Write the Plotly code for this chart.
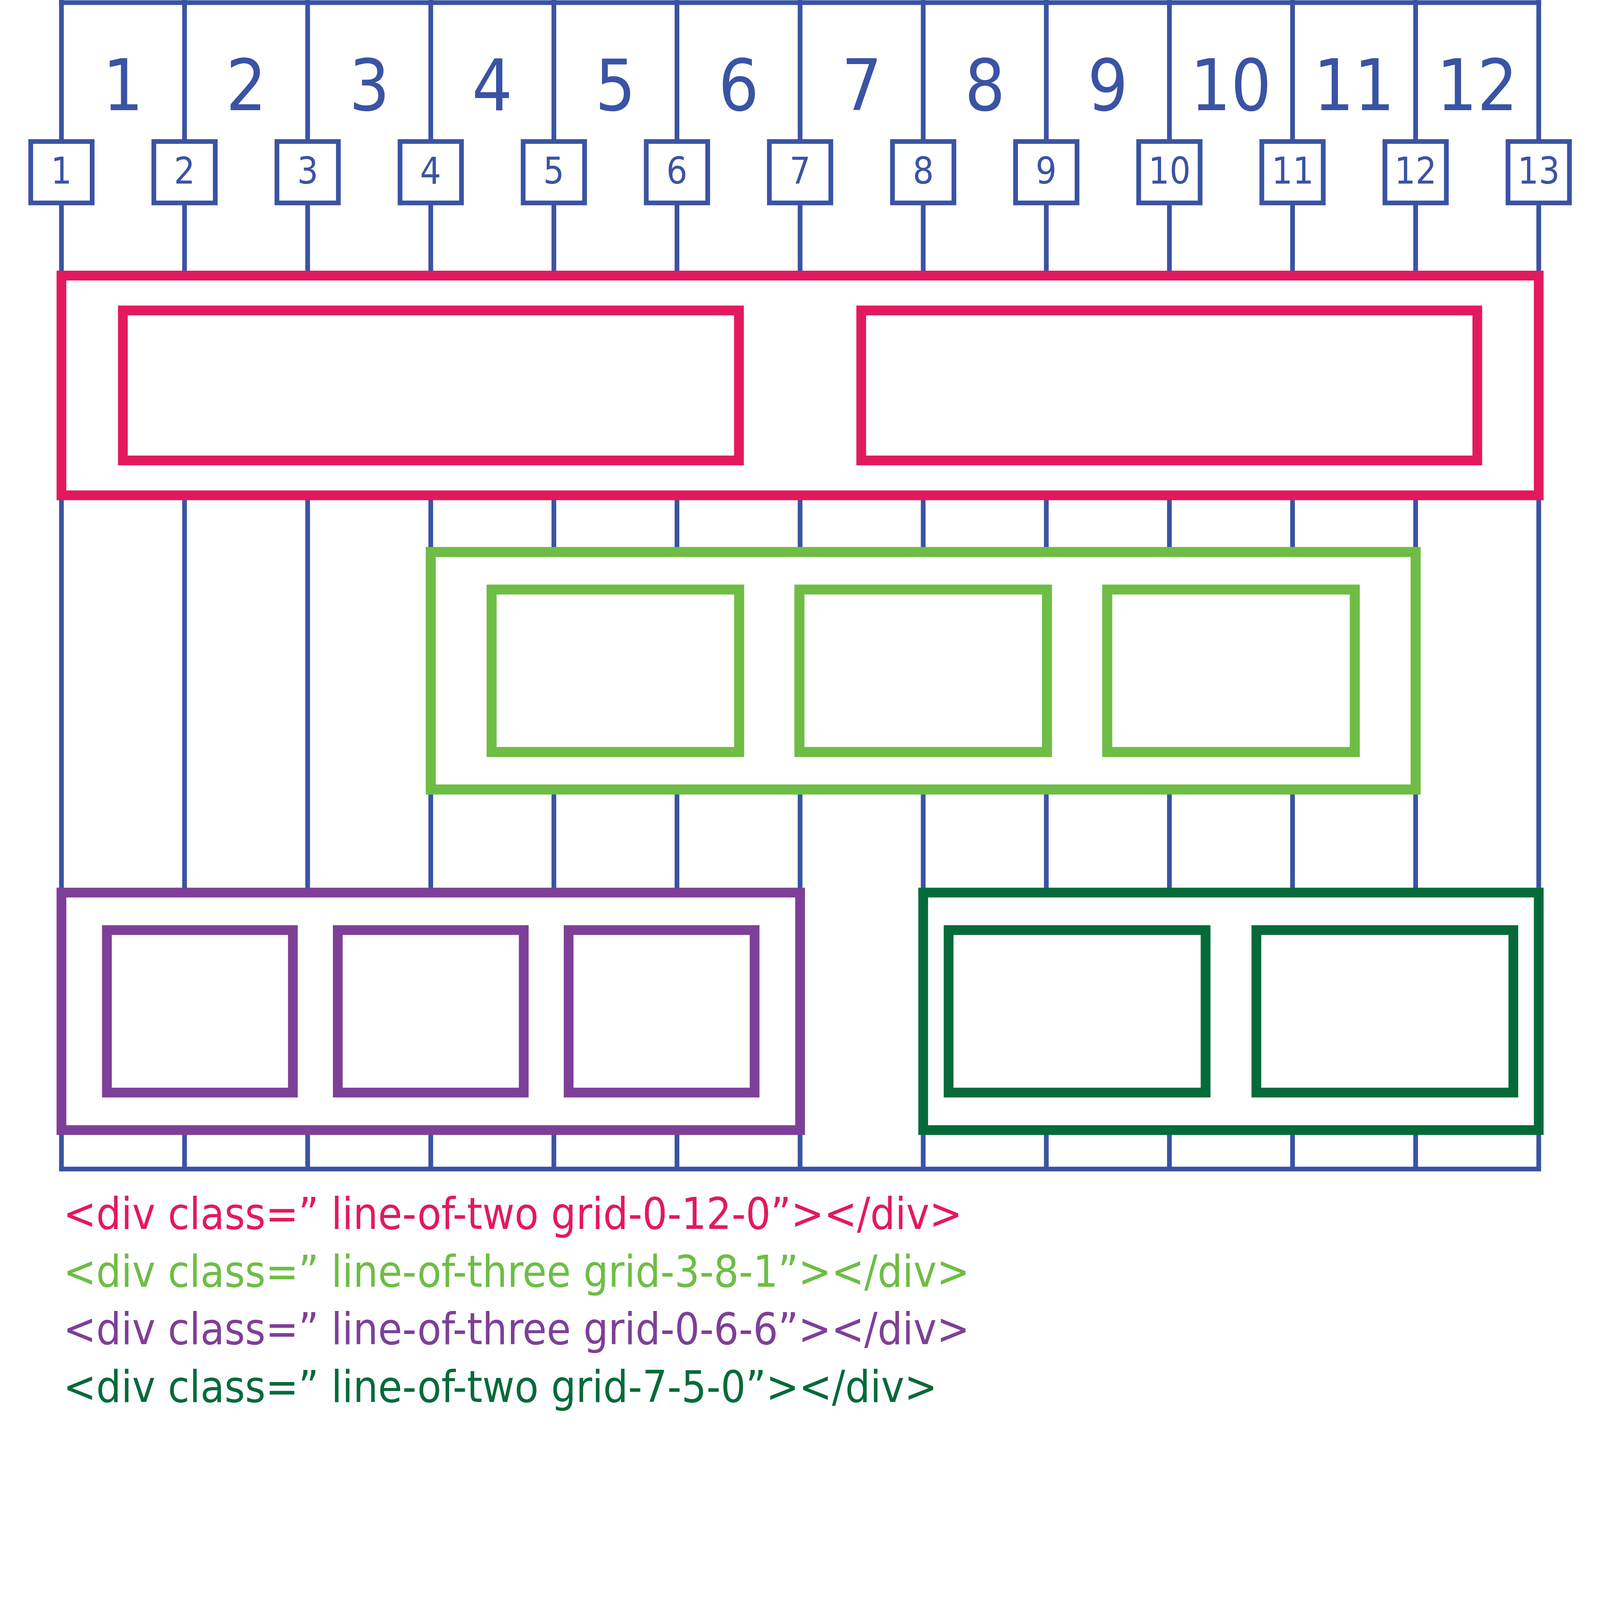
import plotly.graph_objects as go

# ---- data ----
column_labels = [str(i) for i in range(1, 13)]
line_labels = [str(i) for i in range(1, 14)]

row_classes = [
    "<div class=\u201d line-of-two grid-0-12-0\u201d></div>",
    "<div class=\u201d line-of-three grid-3-8-1\u201d></div>",
    "<div class=\u201d line-of-three grid-0-6-6\u201d></div>",
    "<div class=\u201d line-of-two grid-7-5-0\u201d></div>",
]
# (offset, span, trailing) in columns
row_grid = [(0, 12, 0), (3, 8, 1), (0, 6, 6), (7, 5, 0)]
row_children = [2, 3, 3, 2]

# ---- layout / style ----
W, H = 5417, 5009
X0, COL = 208, 416.8
BLUE = "#3A53A4"
row_colors = ["#E3195E", "#6EBD45", "#7E3F98", "#056A39"]
row_band = [(933, 1677), (1869, 2673), (3022, 3826), (3022, 3826)]
row_pad_y = [118, 127, 127, 127]
row_margin = [208, 206, 154, 86]
row_gap = [414, 204, 152, 172]
row_width = [33, 34, 33, 33]
TOP_Y, BOTTOM_Y = 9, 3958
BOX_Y, BOX_HALF = 583, 104
TEXT_X, TEXT_Y0, TEXT_DY = 212, 4198, 195

FONT = "Liberation Sans Narrow, DejaVu Sans Condensed, Roboto Condensed, Open Sans, sans-serif"


def gx(i):
    return X0 + i * COL


shapes = []
annotations = []

# grid lines
for i in range(len(line_labels)):
    shapes.append(dict(type="line", x0=gx(i), x1=gx(i), y0=0, y1=BOTTOM_Y,
                       line=dict(color=BLUE, width=16)))
for yy in (TOP_Y, BOTTOM_Y):
    shapes.append(dict(type="line", x0=gx(0) - 8, x1=gx(12) + 8, y0=yy, y1=yy,
                       line=dict(color=BLUE, width=16)))

# column numbers
for i, lab in enumerate(column_labels):
    annotations.append(dict(x=gx(i) + COL / 2, y=290, text=lab, showarrow=False,
                            xanchor="center", yanchor="middle",
                            font=dict(family=FONT, size=240, color=BLUE)))

# line number boxes
for i, lab in enumerate(line_labels):
    shapes.append(dict(type="rect", x0=gx(i) - BOX_HALF, x1=gx(i) + BOX_HALF,
                       y0=BOX_Y - BOX_HALF, y1=BOX_Y + BOX_HALF,
                       fillcolor="white", line=dict(color=BLUE, width=16)))
    annotations.append(dict(x=gx(i), y=BOX_Y - 6, text=lab, showarrow=False,
                            xanchor="center", yanchor="middle",
                            font=dict(family=FONT, size=125, color=BLUE)))

# rows: outer container plus children
for r, (off, span, _) in enumerate(row_grid):
    c = row_colors[r]
    lw = row_width[r]
    ya, yb = row_band[r]
    xa, xb = gx(off), gx(off + span)
    shapes.append(dict(type="rect", x0=xa, x1=xb, y0=ya, y1=yb,
                       fillcolor="white", line=dict(color=c, width=lw)))
    n = row_children[r]
    m, g = row_margin[r], row_gap[r]
    bw = (xb - xa - 2 * m - (n - 1) * g) / n
    for k in range(n):
        bx = xa + m + k * (bw + g)
        shapes.append(dict(type="rect", x0=bx, x1=bx + bw,
                           y0=ya + row_pad_y[r], y1=yb - row_pad_y[r],
                           fillcolor="white", line=dict(color=c, width=lw)))

# class strings
for r, txt in enumerate(row_classes):
    annotations.append(dict(x=TEXT_X, y=TEXT_Y0 + r * TEXT_DY, text=txt,
                            showarrow=False, xanchor="left", yanchor="bottom",
                            font=dict(family=FONT, size=148, color=row_colors[r])))

fig = go.Figure()
fig.update_layout(
    width=W, height=H, autosize=False,
    margin=dict(l=0, r=0, t=0, b=0),
    paper_bgcolor="white", plot_bgcolor="white",
    shapes=shapes, annotations=annotations,
    showlegend=False,
)
fig.update_xaxes(range=[0, W], visible=False, fixedrange=True)
fig.update_yaxes(range=[H, 0], visible=False, fixedrange=True)

# scale the fixed-size figure to whatever the viewport really is
fit = """
document.documentElement.style.margin='0';
document.body.style.margin='0';
document.body.style.overflow='hidden';
var gd = document.getElementById('{plot_id}');
var s = Math.min(window.innerWidth / %d, window.innerHeight / %d);
gd.style.transformOrigin = '0 0';
gd.style.transform = 'scale(' + s + ')';
""" % (W, H)

fig.write_html("out.html", post_script=fit, config={"displayModeBar": False})
